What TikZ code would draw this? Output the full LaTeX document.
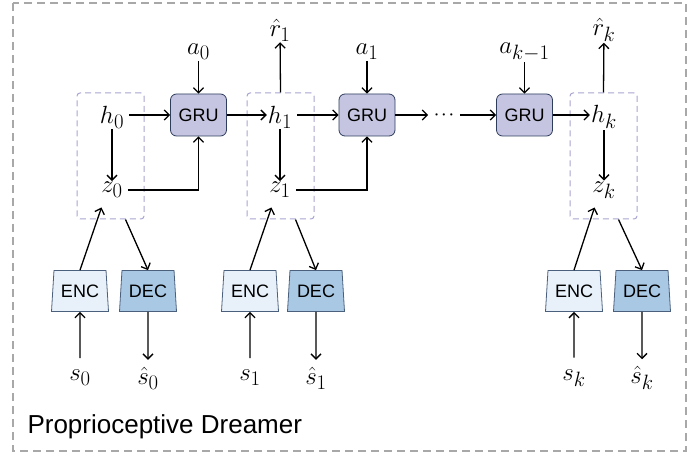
\documentclass[tikz,border=0pt]{standalone}
\usepackage{fontspec}
\setsansfont{Liberation Sans}
\usetikzlibrary{arrows.meta,positioning,shapes.geometric}
\definecolor{gruFill}{HTML}{C5C5E1}
\definecolor{gruDraw}{HTML}{2E3D5C}
\definecolor{encFill}{HTML}{E8F1FA}
\definecolor{decFill}{HTML}{A8C8E4}
\definecolor{codDraw}{HTML}{4B607D}
\definecolor{memDraw}{HTML}{A8A5D0}
\definecolor{frameGray}{HTML}{A8A8A8}
\begin{document}
\begin{tikzpicture}[x=1pt,y=-1pt,
	var/.style={font=\Huge, inner sep=1pt},
	gru/.style={draw=gruDraw, fill=gruFill, rounded corners=6pt, line width=0.8pt,
		minimum width=56pt, minimum height=42pt, font=\sffamily\fontsize{18}{20}\selectfont},
	coder/.style={trapezium, trapezium angle=79, trapezium stretches body, draw=codDraw,
		line width=0.8pt, minimum width=57pt, minimum height=41pt, inner sep=0pt,
		font=\sffamily\fontsize{18}{20}\selectfont},
	enc/.style={coder, fill=encFill},
	dec/.style={coder, fill=decFill},
	mem/.style={draw=memDraw, dash pattern=on 6pt off 4pt, rounded corners=3pt,
		line width=1pt, minimum width=67pt, minimum height=126pt},
	arr/.style={-{Straight Barb[length=5pt,width=10pt]}, line width=1.3pt},
	from/.style={shorten <=11pt},
	gap/.style={shorten <=4pt},
	]
	\useasboundingbox (0,0) rectangle (688,454);
	\draw[frameGray, dash pattern=on 8pt off 5pt, line width=1.5pt] (13,3) rectangle (686,451);
	
	% step 0
	\node[mem] (m0) at (110.5,156) {};
	\node[var] (h0) at (112,117) {$h_0$};
	\node[var] (z0) [below of=h0, node distance=73pt] {$z_0$};
	\node[gru] (g0) at (198.5,115) {GRU};
	\node[var] (a0) [above of=g0, node distance=63pt] {$a_0$};
	\node[enc] (enc0) at (80,291) {ENC};
	\node[dec] (dec0) at (148,291) {DEC};
	\node[var] (s0) [below of=enc0, node distance=87pt] {$s_0$};
	\node[var] (sh0) [below of=dec0, node distance=87pt] {$\hat{s}_0$};
	
	% step 1
	\node[mem] (m1) at (280.5,156) {};
	\node[var] (h1) at (280,117) {$h_1$};
	\node[var] (z1) [below of=h1, node distance=73pt] {$z_1$};
	\node[var] (r1) [above of=h1, node distance=87pt] {$\hat{r}_1$};
	\node[gru] (g1) at (367,115) {GRU};
	\node[var] (a1) [above of=g1, node distance=63pt] {$a_1$};
	\node[enc] (enc1) at (250,291) {ENC};
	\node[dec] (dec1) at (316,291) {DEC};
	\node[var] (s1) [below of=enc1, node distance=87pt] {$s_1$};
	\node[var] (sh1) [below of=dec1, node distance=87pt] {$\hat{s}_1$};
	
	\node[font=\boldmath\fontsize{14}{14}\selectfont, inner sep=6pt] (dots) at (444,115) {$\cdots$};
	
	% step k
	\node[gru] (g2) at (524.5,115) {GRU};
	\node[var] (a2) [above of=g2, node distance=63pt] {$a_{k-1}$};
	\node[mem] (mk) at (603.5,156) {};
	\node[var] (hk) at (604,117) {$h_k$};
	\node[var] (zk) [below of=hk, node distance=73pt] {$z_k$};
	\node[var] (rk) [above of=hk, node distance=87pt] {$\hat{r}_k$};
	\node[enc] (enck) at (574,291) {ENC};
	\node[dec] (deck) at (642,291) {DEC};
	\node[var] (sk) [below of=enck, node distance=87pt] {$s_k$};
	\node[var] (shk) [below of=deck, node distance=87pt] {$\hat{s}_k$};
	
	\node[font=\sffamily\fontsize{26}{30}\selectfont, anchor=west] (title) at (24,427) {Proprioceptive Dreamer};
	
	% recurrent path
	\draw[arr] (a0) -- (g0);
	\draw[arr, gap] (h0.east |- g0) -- (g0.west);
	\draw[arr] (h0) -- (z0);
	\draw[arr, gap] (z0.east) -| (g0.south);
	\draw[arr] (g0.east) -- (h1.west |- g0);
	\draw[arr] (m1.north) -- (r1);
	\draw[arr] (a1) -- (g1);
	\draw[arr, gap] (h1.east |- g1) -- (g1.west);
	\draw[arr] (h1) -- (z1);
	\draw[arr, gap] (z1.east) -| (g1.south);
	\draw[arr] (g1.east) -- (dots.west);
	\draw[arr] (dots.east) -- (g2.west);
	\draw[arr] (a2) -- (g2);
	\draw[arr] (g2.east) -- (hk.west |- g2);
	\draw[arr] (mk.north) -- (rk);
	\draw[arr] (hk) -- (zk);
	
	% encoders and decoders
	\draw[arr] (enc0.north) -- ([xshift=-9pt,yshift=12pt]m0.south);
	\draw[arr] ([xshift=15pt]m0.south) -- (dec0.north);
	\draw[arr, from] (s0) -- (enc0.south);
	\draw[arr, shorten >=6pt] (dec0.south) -- (sh0);
	\draw[arr] (enc1.north) -- ([xshift=-9pt,yshift=12pt]m1.south);
	\draw[arr] ([xshift=15pt]m1.south) -- (dec1.north);
	\draw[arr, from] (s1) -- (enc1.south);
	\draw[arr, shorten >=6pt] (dec1.south) -- (sh1);
	\draw[arr] (enck.north) -- ([xshift=-9pt,yshift=12pt]mk.south);
	\draw[arr] ([xshift=15pt]mk.south) -- (deck.north);
	\draw[arr, from] (sk) -- (enck.south);
	\draw[arr, shorten >=6pt] (deck.south) -- (shk);
\end{tikzpicture}
\end{document}
